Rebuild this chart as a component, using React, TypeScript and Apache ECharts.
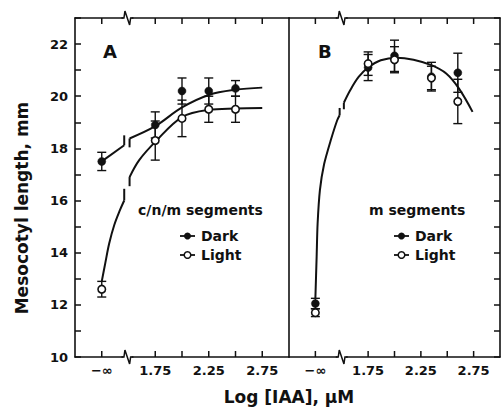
import React, { useEffect, useRef } from "react";
import * as echarts from "echarts";

// ---------- data ----------
const X_MIN = 1;
const X_MAX = 3;
const X_STEP = 0.25;
const Y_MIN = 10;
const Y_MAX = 23;
const X_TICKS = [1.25, 1.75, 2.0, 2.25, 2.5, 2.75];
const X_LABEL_VALUES = [1.25, 1.75, 2.25, 2.75];
const X_LABEL_TEXTS = ["−∞", "1.75", "2.25", "2.75"];
const Y_LABEL_VALUES = [10, 12, 14, 16, 18, 20, 22];
const BREAK_A = 1.49;
const BREAK_B = 1.5;

// [x, mean, error]
const DARK_A = [[1.25, 17.5, 0.35], [1.75, 18.9, 0.5], [2.0, 20.2, 0.5], [2.25, 20.2, 0.5], [2.5, 20.3, 0.3]];
const LIGHT_A = [[1.25, 12.6, 0.3], [1.75, 18.3, 0.75], [2.0, 19.15, 0.7], [2.25, 19.5, 0.5], [2.5, 19.5, 0.5]];
const DARK_B = [[1.25, 12.05, 0.2], [1.75, 21.1, 0.5], [2.0, 21.55, 0.6], [2.35, 20.75, 0.55], [2.6, 20.9, 0.75]];
const LIGHT_B = [[1.25, 11.7, 0.15], [1.75, 21.25, 0.45], [2.0, 21.4, 0.5], [2.35, 20.7, 0.45], [2.6, 19.8, 0.85]];

// fitted curves
const CURVE_DARK_A1 = [[1.25, 17.5], [1.46, 18.12]];
const CURVE_DARK_A2 = [[1.51, 18.38], [1.75, 18.85], [2.0, 19.57], [2.25, 20.05], [2.5, 20.25], [2.75, 20.33]];
const CURVE_LIGHT_A1 = [[1.25, 12.9], [1.283, 13.6], [1.32, 14.36], [1.367, 15.06], [1.42, 15.63], [1.46, 16.0]];
const CURVE_LIGHT_A2 = [[1.51, 16.9], [1.6, 17.55], [1.75, 18.25], [2.0, 19.2], [2.25, 19.48], [2.5, 19.53], [2.75, 19.55]];
const CURVE_B1 = [[1.25, 12.25], [1.262, 13.85], [1.271, 15.1], [1.293, 16.4], [1.333, 17.4], [1.395, 18.3], [1.456, 19.07], [1.48, 19.27]];
const CURVE_B2 = [[1.52, 19.75], [1.58, 20.23], [1.66, 20.74], [1.75, 21.1], [1.87, 21.38], [2.02, 21.48], [2.18, 21.4], [2.35, 21.19], [2.49, 20.87], [2.61, 20.3], [2.74, 19.4]];

// small break hooks on the curves
const HOOKS_A = [
  [[1.46, 18.12], [1.46, 18.5]],
  [[1.51, 18.04], [1.51, 18.38]],
  [[1.46, 16.0], [1.46, 16.45]],
  [[1.51, 16.55], [1.51, 16.9]],
];
const HOOKS_B = [
  [[1.48, 19.27], [1.48, 19.55]],
  [[1.52, 19.5], [1.52, 19.75]],
];

const FONT = "DejaVu Sans";
const INK = "#111";

function xLabel(v: number): string {
  for (let i = 0; i < X_LABEL_VALUES.length; i++) {
    if (Math.abs(v - X_LABEL_VALUES[i]) < 1e-6) return X_LABEL_TEXTS[i];
  }
  return "";
}

function xAxisDef(gridIndex: number, position: "top" | "bottom", labels: boolean) {
  return {
    type: "value",
    gridIndex,
    position,
    min: X_MIN,
    max: X_MAX,
    interval: X_STEP,
    axisLine: { show: true, onZero: false, lineStyle: { color: INK, width: 1.6 } },
    axisTick: { show: false },
    splitLine: { show: false },
    axisLabel: labels
      ? { show: true, formatter: (v: number) => xLabel(v), margin: 7, color: INK, fontFamily: FONT, fontWeight: "bold", fontSize: 13 }
      : { show: false },
  };
}

function tickSeries(xi: number, yi: number) {
  return {
    type: "custom",
    xAxisIndex: xi,
    yAxisIndex: yi,
    clip: false,
    silent: true,
    z: 5,
    data: X_TICKS.map((v) => [v]),
    renderItem: (params: any, api: any) => {
      const b = api.coord([api.value(0), Y_MIN]);
      const t = api.coord([api.value(0), Y_MAX]);
      const st = { stroke: INK, lineWidth: 1.5 };
      return {
        type: "group",
        children: [
          { type: "line", shape: { x1: b[0], y1: b[1], x2: b[0], y2: b[1] - 6 }, style: st },
          { type: "line", shape: { x1: t[0], y1: t[1], x2: t[0], y2: t[1] + 6 }, style: st },
        ],
      };
    },
  };
}

function breakSeries(xi: number, yi: number, bx: number) {
  return {
    type: "custom",
    xAxisIndex: xi,
    yAxisIndex: yi,
    clip: false,
    silent: true,
    z: 6,
    data: [[bx]],
    renderItem: (params: any, api: any) => {
      const children: any[] = [];
      [Y_MIN, Y_MAX].forEach((yv) => {
        const p = api.coord([api.value(0), yv]);
        const c = p[0];
        const y0 = p[1];
        children.push({ type: "rect", shape: { x: c - 4, y: y0 - 2, width: 8, height: 4 }, style: { fill: "#fff" } });
        children.push({
          type: "polyline",
          shape: { points: [[c - 6, y0], [c - 3.5, y0], [c - 2.5, y0 - 7], [c + 2.2, y0 + 7], [c + 3.2, y0], [c + 6, y0]] },
          style: { stroke: INK, lineWidth: 1.5, fill: "none" },
        });
      });
      return { type: "group", children };
    },
  };
}

function errSeries(xi: number, yi: number, data: number[][]) {
  return {
    type: "custom",
    xAxisIndex: xi,
    yAxisIndex: yi,
    clip: false,
    silent: true,
    z: 4,
    data,
    renderItem: (params: any, api: any) => {
      const x = api.value(0);
      const y = api.value(1);
      const e = api.value(2);
      const t = api.coord([x, y + e]);
      const b = api.coord([x, y - e]);
      const st = { stroke: INK, lineWidth: 1.4 };
      return {
        type: "group",
        children: [
          { type: "line", shape: { x1: t[0], y1: t[1], x2: b[0], y2: b[1] }, style: st },
          { type: "line", shape: { x1: t[0] - 4.5, y1: t[1], x2: t[0] + 4.5, y2: t[1] }, style: st },
          { type: "line", shape: { x1: b[0] - 4.5, y1: b[1], x2: b[0] + 4.5, y2: b[1] }, style: st },
        ],
      };
    },
  };
}

function curve(xi: number, yi: number, data: number[][], smooth: number) {
  return {
    type: "line",
    xAxisIndex: xi,
    yAxisIndex: yi,
    data,
    smooth: smooth > 0 ? smooth : false,
    symbol: "none",
    silent: true,
    z: 3,
    lineStyle: { color: INK, width: 2 },
  };
}

function points(xi: number, yi: number, data: number[][], filled: boolean) {
  return {
    type: "scatter",
    xAxisIndex: xi,
    yAxisIndex: yi,
    data: data.map((d) => [d[0], d[1]]),
    symbol: "circle",
    symbolSize: filled ? 8 : 7.5,
    silent: true,
    z: 7,
    itemStyle: filled
      ? { color: INK, borderColor: INK, borderWidth: 0.5, opacity: 1 }
      : { color: "#fff", borderColor: INK, borderWidth: 1.6, opacity: 1 },
  };
}

function legendGraphic(x1: number, textX: number, yDark: number, yLight: number) {
  const st = { stroke: INK, lineWidth: 1.8 };
  const mid = x1 + 7.5;
  const tf = { fill: INK, font: `bold 14px "${FONT}"`, textVerticalAlign: "middle" };
  return [
    { type: "line", shape: { x1, y1: yDark, x2: x1 + 15, y2: yDark }, style: st },
    { type: "circle", shape: { cx: mid, cy: yDark, r: 3.5 }, style: { fill: INK } },
    { type: "text", x: textX, y: yDark, style: { ...tf, text: "Dark" } },
    { type: "line", shape: { x1, y1: yLight, x2: x1 + 15, y2: yLight }, style: st },
    { type: "circle", shape: { cx: mid, cy: yLight, r: 3.3 }, style: { fill: "#fff", stroke: INK, lineWidth: 1.5 } },
    { type: "text", x: textX, y: yLight, style: { ...tf, text: "Light" } },
  ];
}

export default function App() {
  const ref = useRef<HTMLDivElement>(null);
  useEffect(() => {
    if (!ref.current) return;
    const chart = echarts.init(ref.current, null, { renderer: "svg" });
    const yCommon = {
      type: "value",
      min: Y_MIN,
      max: Y_MAX,
      interval: 1,
      splitLine: { show: false },
    };
    const option: any = {
      animation: false,
      backgroundColor: "#fff",
      grid: [
        { left: 75, top: 18, width: 214, height: 339 },
        { left: 289, top: 18, width: 216, height: 339 },
      ],
      xAxis: [
        xAxisDef(0, "bottom", true),
        xAxisDef(0, "top", false),
        xAxisDef(1, "bottom", true),
        xAxisDef(1, "top", false),
      ],
      yAxis: [
        {
          ...yCommon,
          gridIndex: 0,
          position: "left",
          axisLine: { show: true, lineStyle: { color: INK, width: 1.6 } },
          axisTick: { show: true, inside: true, length: 6, lineStyle: { color: INK, width: 1.5 } },
          axisLabel: {
            show: true,
            margin: 7,
            color: INK,
            fontFamily: FONT,
            fontWeight: "bold",
            fontSize: 13,
            formatter: (v: number) => (Y_LABEL_VALUES.indexOf(v) >= 0 ? String(v) : ""),
          },
        },
        {
          ...yCommon,
          gridIndex: 1,
          position: "left",
          axisLine: { show: true, lineStyle: { color: INK, width: 1.6 } },
          axisTick: { show: false },
          axisLabel: { show: false },
        },
        {
          ...yCommon,
          gridIndex: 1,
          position: "right",
          axisLine: { show: true, lineStyle: { color: INK, width: 1.6 } },
          axisTick: { show: true, inside: true, length: 6, lineStyle: { color: INK, width: 1.5 } },
          axisLabel: { show: false },
        },
      ],
      graphic: [
        { type: "text", x: 103, y: 51, style: { text: "A", fill: INK, font: `bold 18px "${FONT}"`, textVerticalAlign: "middle" } },
        { type: "text", x: 318, y: 51, style: { text: "B", fill: INK, font: `bold 18px "${FONT}"`, textVerticalAlign: "middle" } },
        { type: "text", x: 138, y: 210, style: { text: "c/n/m segments", fill: INK, font: `bold 14px "${FONT}"`, textVerticalAlign: "middle" } },
        { type: "text", x: 369, y: 210, style: { text: "m segments", fill: INK, font: `bold 14px "${FONT}"`, textVerticalAlign: "middle" } },
        ...legendGraphic(180, 201, 236, 255),
        ...legendGraphic(394, 415, 236, 255),
        {
          type: "text",
          x: 289,
          y: 397,
          style: { text: "Log [IAA], µM", fill: INK, font: `bold 17px "${FONT}"`, textAlign: "center", textVerticalAlign: "middle" },
        },
        {
          type: "text",
          x: 22,
          y: 208,
          rotation: Math.PI / 2,
          style: { text: "Mesocotyl length, mm", fill: INK, font: `bold 17px "${FONT}"`, textAlign: "center", textVerticalAlign: "middle" },
        },
      ],
      series: [
        tickSeries(0, 0),
        tickSeries(2, 1),
        breakSeries(0, 0, BREAK_A),
        breakSeries(2, 1, BREAK_B),
        curve(0, 0, CURVE_DARK_A1, 0),
        curve(0, 0, CURVE_DARK_A2, 0.35),
        curve(0, 0, CURVE_LIGHT_A1, 0.35),
        curve(0, 0, CURVE_LIGHT_A2, 0.35),
        ...HOOKS_A.map((h) => curve(0, 0, h, 0)),
        curve(2, 1, CURVE_B1, 0.25),
        curve(2, 1, CURVE_B2, 0.35),
        ...HOOKS_B.map((h) => curve(2, 1, h, 0)),
        errSeries(0, 0, DARK_A),
        errSeries(0, 0, LIGHT_A),
        errSeries(2, 1, DARK_B),
        errSeries(2, 1, LIGHT_B),
        points(0, 0, DARK_A, true),
        points(0, 0, LIGHT_A, false),
        points(2, 1, DARK_B, true),
        points(2, 1, LIGHT_B, false),
      ],
    };
    chart.setOption(option);
    return () => chart.dispose();
  }, []);
  return <div ref={ref} style={{ position: "fixed", left: 0, top: 0, width: 503, height: 417, background: "#fff" }} />;
}
